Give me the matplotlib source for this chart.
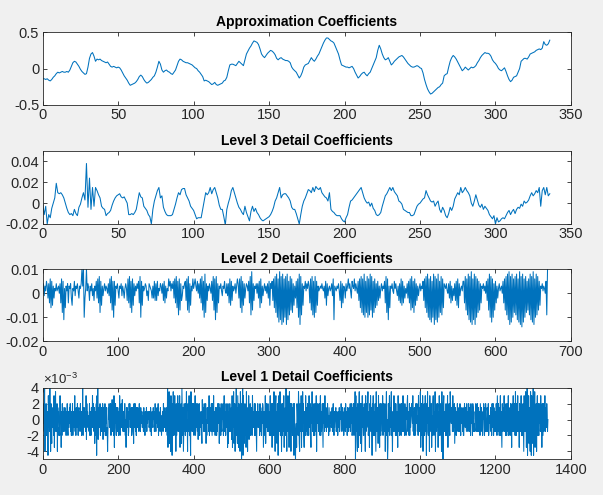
import numpy as np
import matplotlib.pyplot as plt
from matplotlib.ticker import FuncFormatter

plt.rcParams['font.family'] = ['Liberation Sans', 'DejaVu Sans']
plt.rcParams['axes.unicode_minus'] = False
plt.rcParams['mathtext.fontset'] = 'custom'
plt.rcParams['mathtext.rm'] = 'Liberation Sans'

# approximation coefficients, in units of 0.01
approx = [
    -14, -14, -15, -14, -16, -17, -15, -12, -10, -7,
    -5, -6, -5, -4, -5, -5, -4, -5, -2, 3,
    8, 10, 9, 6, 3, -1, -4, -6, -8, -7,
    2, 14, 20, 22, 17, 10, 13, 12, 13, 11,
    10, 9, 8, 9, 6, 3, 2, 3, 2, 1,
    2, 1, -2, -6, -10, -13, -16, -20, -23, -22,
    -21, -20, -18, -15, -11, -9, -11, -15, -18, -20,
    -19, -17, -15, -12, -10, -5, 2, 10, 6, -2,
    -5, -3, -2, -4, -5, -7, -8, -5, -2, 4,
    10, 13, 12, 10, 9, 8, 8, 7, 6, 5,
    3, 1, 0, -3, -5, -8, -11, -17, -16, -17,
    -18, -20, -22, -21, -19, -22, -23, -22, -21, -20,
    -17, -16, -12, -3, 5, 6, 6, 5, 4, 7,
    10, 8, 6, 4, 12, 20, 24, 28, 31, 35,
    38, 37, 36, 33, 27, 20, 17, 15, 18, 21,
    23, 25, 24, 22, 19, 14, 12, 14, 15, 13,
    12, 11, 11, 10, 8, 2, -1, -3, -5, -9,
    -13, -10, -5, 2, 5, 6, 7, 11, 15, 12,
    10, 13, 17, 20, 25, 30, 35, 39, 42, 42,
    40, 38, 37, 35, 30, 25, 20, 12, 5, 4,
    3, 2, 2, 1, 2, 3, 0, -5, -9, -13,
    -11, -8, -6, -5, -8, -10, -7, -5, 0, 5,
    10, 15, 25, 32, 27, 20, 15, 12, 13, 15,
    10, 5, 7, 10, 12, 14, 16, 17, 18, 16,
    13, 10, 7, 5, 3, 2, 2, 3, 4, 3,
    1, 0, -6, -15, -22, -28, -32, -35, -34, -32,
    -30, -28, -26, -25, -22, -20, -10, -8, -7, 2,
    10, 15, 18, 16, 13, 9, 5, 1, -3, -1,
    2, 0, -2, 0, 2, 1, 2, 4, 8, 11,
    15, 18, 20, 22, 21, 21, 20, 17, 12, 9,
    7, 4, 0, -2, -3, -1, 1, -4, -10, -15,
    -18, -16, -12, -11, -10, -5, 0, 10, 12, 14,
    14, 13, 16, 20, 21, 22, 23, 25, 26, 27,
    26, 28, 37, 33, 32, 34, 39,
]

# level 3 detail coefficients, in units of 0.001
detail3 = [
    -1, -11, -3, -20, -11, -14, -5, 0, 5, 19,
    10, 9, 10, 8, 5, 0, -5, -9, -11, -10,
    -12, -6, -10, -12, -4, -1, 5, 10, 3, 38,
    -4, 24, -6, 15, -3, 15, 12, 8, 5, -3,
    -5, -6, -12, -10, -9, -7, -2, 2, 5, 7,
    8, 9, 6, 5, 6, 3, 0, -11, -11, -10,
    -11, -9, -6, 2, 10, 6, 5, -3, -5, -7,
    -11, -13, -20, -6, 2, 7, 12, 15, 5, 7,
    -4, -8, -11, -12, -12, -12, -11, -6, -1, 5,
    10, 8, 13, 14, 14, 8, 5, 2, -3, -5,
    -7, -11, -15, -14, -14, -14, -6, 2, 10, 8,
    10, 15, 9, 13, 15, 10, 5, -2, -6, -6,
    -13, -21, -6, 0, 5, 12, 15, 10, 5, 0,
    -4, -6, -9, -11, -3, -9, -13, -17, -8, -3,
    -8, -5, -9, -11, -14, -16, -17, -16, -15, -14,
    -13, -11, -8, -4, 2, 5, 10, 15, 5, 8,
    9, 9, 7, 5, 2, -4, -6, -6, -10, -15,
    -20, -11, -3, 2, 5, 9, 13, 12, 10, 15,
    11, 16, 14, 13, 15, 10, 8, 6, 5, 2,
    10, -6, -8, -9, -11, -12, -12, -12, -15, -17,
    -18, -14, -11, -4, 2, 3, 5, 7, 9, 11,
    13, 15, 10, 5, 2, 0, 1, -3, 0, -5,
    -7, -11, -12, -11, -9, -3, 2, 7, 9, 12,
    15, 12, 15, 11, 9, 7, 2, 1, -1, -6,
    -7, -8, -9, -9, -12, -12, -11, -7, -3, -1,
    0, 2, 4, 5, 12, 8, 5, 2, 1, 2,
    -3, 0, 2, -6, -9, -4, -7, -12, -14, -10,
    -4, -7, -3, 4, 7, 10, 8, 15, 10, 12,
    15, 12, 10, 7, 0, -3, 2, 8, 3, -2,
    -4, -1, -6, -3, -5, -7, -11, -13, -15, -12,
    -20, -14, -18, -17, -15, -14, -15, -12, -9, -7,
    -11, -8, -6, -10, -6, -4, -5, -1, -3, 2,
    0, 1, 3, 7, 10, 7, 9, 12, 10, 15,
    -3, 12, 15, 8, 15, 7, 9,
]

# level 2 detail, one letter per sample: 'o' = 0, each letter step = 0.001
detail2_txt = (
    "qsnrptrmskuitjrmqpspqroskugtdqirpskrqsmjqptnrqspmr"
    "qsyrzemqypsqlrpsnqlrptmukvgtjrnqsprqosnukvhtetjrqs"
    "pmrqsnrpmqsqlukvitgujsnrpsqtkvetjrpqsrnplsrqpmrmtl"
    "sltnqpsrosltkrmqpurtpsqtmukvitfuhslnrqstluhvgsjrpu"
    "qsurptosmukvhtewgslrpsqotlvhudvgskrqspnrqtposnskuj"
    "tlrpqsorusmuivgtjsmqsrptkvfxhslrqsosmtiukrnqsprosm"
    "tjsqtluivgweucxdvbwcuevbwdtfvhugsjrmtiuewbvfsjrqtp"
    "sqtrkuhvftevgtjrpqrqsqprmtjsnqrpqsnudrqprqspltiskr"
    "qmspruqspmtrqupsqotluivgufwetgveufwhvetguisjtlrmqs"
    "prqtkvgudrirqspotqspnrlskujtkrmqosmtkuhvitgujslrnq"
    "sprqtluivgweudvctewbvducwetgvfuisrqsposmtkrlqnsltj"
    "uisnqrpttkvhufwdvcxbudwbveugthskrqsprotluhwevcuesh"
    "tkrmqspqrotkuhvfwdxbvcweugvfwducxbvawcuevgthufwdvc"
    "xbuewfvhtjrqsprqotfy"
)

# level 1 detail, one letter per sample: 'k' = 0, each letter step = 0.0005
detail1_txt = (
    "kojmhscnjoigmkbqinhskcoheminlgqdmjrhkhocnlmgigqjmd"
    "mgoimhnkhnjlgmhoigmkinjohlgmiogkmijqhmgnkiolgmnjmh"
    "oimgmhsgnjnikmhqfojmilihogmkgnmiqiojhnemgkobqhtfnm"
    "ikogmhnjhofnlkhogmjngichnkoimjogliphnkgqdmjoignlhn"
    "jgmhqgnkoiipjhmlhoogkdnjnimghokoiljnghnmkeoijohmgn"
    "kinjmhoilhnkjmilkhnjlgmkinhmjlkmijmhnkglmjinkmhjol"
    "hmjnkiogmjlhnkigljmhoklinjhmkngsdnireokcqgmbohrgni"
    "qgmcogniqhkohqdmjoeslgnciohmgojrhkcomhqgngbrjmhoih"
    "ogmjqgkoinhofmjoglimmhepkjnhoihmoekgnjnlhqgminhokg"
    "ojhqhmkgninglhokjoenhmgoihnkogjqhlmgokindoejmhohlk"
    "nfqdmiregocmhsgneqkdoimcrhoafnsbqhejogmdrikcnhqfmj"
    "oglhngqjmikogogmhcmjoimilgohnkgmjondhmigqekoinhojh"
    "mgkqgniodojmgrhlcoqgmeokbnqihrgjmcogoihqdmjngsicoh"
    "qhmdrgokcojnghomboigahjdomigrnecokhqdmhrjogdmigqkh"
    "ngojmgqikohdnjrhlmgoigokhqcmjonhiolgqgmhkoidojnhqi"
    "knhmjoilgnkhljmiknhlojgmikmnhjmlgkminhjmkolhinjkgm"
    "jnhokimgnjlhnkiohmjoghnkogmiraqhnfcokdmrgjoeochqin"
    "ggomjcqhoiknrgimdojqhnlbohqgmkgoicrjhnmeqhkdoigojm"
    "hqgoimhocnjrgkadomhqgniorgjcmkhqhlogoigmjdqhnkgoim"
    "gojnhqkhmgolignkoqhmjgogniknoljqhmgnkgiojmohlgqkhn"
    "jrdmoghqcnkogiqhmbojrhgnkcqmihodlgoqjgmhrcnkhoiodm"
    "gqkghomcrjnaoqhhmkgognjqdmhoigrokjnmhqhlioejnkgmho"
    "jnhmkhoignkjmhngglolinkhojmhkoihnlgojmkgonhijhmkoh"
    "mkohjnhmigokhnjlgmkoignhojkhnmhogilkjnhmgokiognjhm"
    "khoigqmhojgnkqgmidolhnkqhjmgoigokhqgnjlgomkdoihqhn"
    "jogrkgoihqhmkdojnhqgmgjoicqhnhrkdmsbogqenhcrmbqjoe"
    "sbqhrdnjocmqgoigojnhqimdokgohmjqhnkiolhk"
)

detail2 = (np.array([ord(c) for c in detail2_txt]) - ord('o')) * 1e-3
detail1 = (np.array([ord(c) for c in detail1_txt]) - ord('k')) * 0.5e-3

series = [np.array(approx) * 0.01, np.array(detail3) * 1e-3, detail2, detail1]
titles = ['Approximation Coefficients', 'Level 3 Detail Coefficients',
          'Level 2 Detail Coefficients', 'Level 1 Detail Coefficients']
xlims = [350, 350, 700, 1400]
xsteps = [50, 50, 100, 200]
ylims = [(-0.5, 0.5), (-0.02, 0.05), (-0.02, 0.01), (-5e-3, 4e-3)]
yticks = [[-0.5, 0, 0.5], [-0.02, 0, 0.02, 0.04], [-0.02, -0.01, 0, 0.01],
          [-4e-3, -2e-3, 0, 2e-3, 4e-3]]

fig = plt.figure(figsize=(6.03, 4.95), dpi=100, facecolor='#f0f0f0')
bottoms = [0.788, 0.5475, 0.3105, 0.0721]
heights = [0.147, 0.1475, 0.1455, 0.1446]
ink = '#262626'

for i in range(4):
    ax = fig.add_axes([0.0708, bottoms[i], 0.876, heights[i]])
    y = series[i]
    ax.plot(np.arange(len(y)), y, color='#0072BD', lw=0.75)
    ax.set_xlim(0, xlims[i])
    ax.set_ylim(*ylims[i])
    ax.set_xticks(np.arange(0, xlims[i] + 1, xsteps[i]))
    ax.set_yticks(yticks[i])
    if i == 3:
        ax.yaxis.set_major_formatter(FuncFormatter(lambda v, p: '%g' % round(v * 1e3, 6)))
        ax.text(0, 1.01, r'$\times\mathregular{10^{-3}}$', transform=ax.transAxes,
                ha='left', va='bottom', fontsize=9.5, color=ink)
    else:
        ax.yaxis.set_major_formatter(FuncFormatter(lambda v, p: '%g' % round(v, 6)))
    ax.tick_params(direction='in', length=3, width=0.6, colors=ink, labelsize=10.5,
                   top=True, right=True, pad=2.5)
    for s in ax.spines.values():
        s.set_color(ink)
        s.set_linewidth(0.6)
    ax.set_title(titles[i], fontsize=10, fontweight='bold', pad=4.5)

fig.savefig('out.png', dpi=100, facecolor=fig.get_facecolor())
